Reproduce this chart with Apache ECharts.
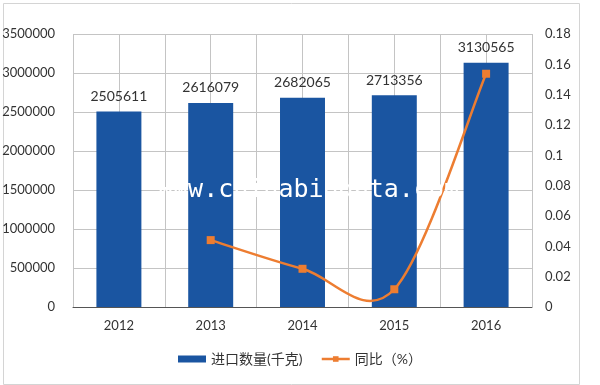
<!DOCTYPE html>
<html><head><meta charset="utf-8">
<script src="https://cdn.jsdelivr.net/npm/echarts@6/dist/echarts.min.js"></script>
<style>html,body{margin:0;padding:0;background:#fff}#c{width:600px;height:385px}</style>
</head><body><div id="c"></div>
<script>
var categories = ['2012', '2013', '2014', '2015', '2016'];
var importQty = [2505611, 2616079, 2682065, 2713356, 3130565];
var yoy = [null, 0.0441, 0.0252, 0.0117, 0.1538];
var seriesNames = ['进口数量(千克)', '同比（%）'];
var watermark = 'www.chinabigdata.com';

var FONT = 'Lato, "Noto Sans CJK SC", sans-serif';
var ORANGE = '#ed7d31';

// Excel-like smooth curve (Catmull-Rom / Bezier) drawn through library coords
function renderCurve(params, api) {
  if (params.dataIndex !== 0) return null;
  var pts = [];
  for (var i = 0; i < yoy.length; i++) {
    if (yoy[i] != null) pts.push(api.coord([i, yoy[i]]));
  }
  var path = [];
  for (var k = 0; k < pts.length - 1; k++) {
    var p0 = pts[k - 1] || pts[k];
    var p1 = pts[k];
    var p2 = pts[k + 1];
    var p3 = pts[k + 2] || pts[k + 1];
    var c1 = [p1[0] + (p2[0] - p0[0]) / 6, p1[1] + (p2[1] - p0[1]) / 6];
    var c2 = [p2[0] - (p3[0] - p1[0]) / 6, p2[1] - (p3[1] - p1[1]) / 6];
    if (k === 0) path.push('M' + p1[0] + ' ' + p1[1]);
    path.push('C' + c1[0] + ' ' + c1[1] + ' ' + c2[0] + ' ' + c2[1] + ' ' + p2[0] + ' ' + p2[1]);
  }
  return {
    type: 'path',
    shape: {pathData: path.join(' ')},
    style: {fill: 'none', stroke: ORANGE, lineWidth: 2.5}
  };
}

var chart = echarts.init(document.getElementById('c'), null, {renderer: 'canvas'});
chart.setOption({
  animation: false,
  backgroundColor: '#fff',
  textStyle: {fontFamily: FONT},
  grid: {left: 73, right: 68, top: 34, bottom: 78, containLabel: false, outerBoundsMode: 'none'},
  legend: {
    bottom: 14, left: 'center',
    itemWidth: 28, itemHeight: 7, itemGap: 18,
    textStyle: {fontSize: 14, color: '#333', fontFamily: FONT},
    data: [
      {name: seriesNames[0], icon: 'rect'},
      {name: seriesNames[1], lineStyle: {color: ORANGE, width: 2.5, opacity: 1}}
    ]
  },
  xAxis: [{
    type: 'category', data: categories, boundaryGap: true,
    axisLine: {show: true, lineStyle: {color: '#555', width: 1}},
    axisTick: {show: false},
    axisLabel: {fontSize: 13, color: '#333', margin: 12, fontFamily: FONT},
    splitLine: {show: false}
  }, {
    type: 'value', min: 0, max: 5, interval: 0.5, position: 'bottom',
    axisLine: {show: false}, axisTick: {show: false}, axisLabel: {show: false},
    splitLine: {show: true, lineStyle: {color: '#c4c4c4', width: 1}}
  }],
  yAxis: [{
    type: 'value', min: 0, max: 3500000, interval: 500000,
    axisLine: {show: false}, axisTick: {show: false},
    axisLabel: {fontSize: 13, color: '#333', margin: 18, fontFamily: FONT,
      formatter: function (v) { return String(v); }},
    splitLine: {show: true, lineStyle: {color: '#c4c4c4', width: 1}}
  }, {
    type: 'value', min: 0, max: 0.18, interval: 0.02, position: 'right',
    axisLine: {show: false}, axisTick: {show: false},
    axisLabel: {fontSize: 13, color: '#333', margin: 13, fontFamily: FONT,
      formatter: function (v) { return String(+v.toFixed(2)); }},
    splitLine: {show: false}
  }],
  graphic: [{
    type: 'rect', left: 1, top: 1, z: -1, silent: true,
    shape: {width: 576, height: 381},
    style: {fill: 'none', stroke: '#d4d4d4', lineWidth: 1}
  }, {
    type: 'text', left: 158, top: 178, z: 100, silent: true,
    style: {text: watermark, fill: '#ffffff', font: '25px "DejaVu Sans Mono", monospace'}
  }],
  series: [{
    name: seriesNames[0], type: 'bar', data: importQty,
    barWidth: '49%', xAxisIndex: 0, yAxisIndex: 0,
    itemStyle: {color: '#1a55a1'},
    label: {show: true, position: 'top', distance: 8, fontSize: 14, color: '#333', fontFamily: FONT}
  }, {
    name: seriesNames[1], type: 'line', data: yoy,
    xAxisIndex: 0, yAxisIndex: 1, smooth: false, connectNulls: false,
    symbol: 'rect', symbolSize: 8, z: 5,
    lineStyle: {color: ORANGE, width: 2.5, opacity: 0},
    itemStyle: {color: ORANGE}
  }, {
    name: 'curve', type: 'custom', coordinateSystem: 'cartesian2d',
    xAxisIndex: 0, yAxisIndex: 1, z: 4, silent: true,
    data: [[0, 0]],
    renderItem: renderCurve
  }]
});
</script></body></html>
